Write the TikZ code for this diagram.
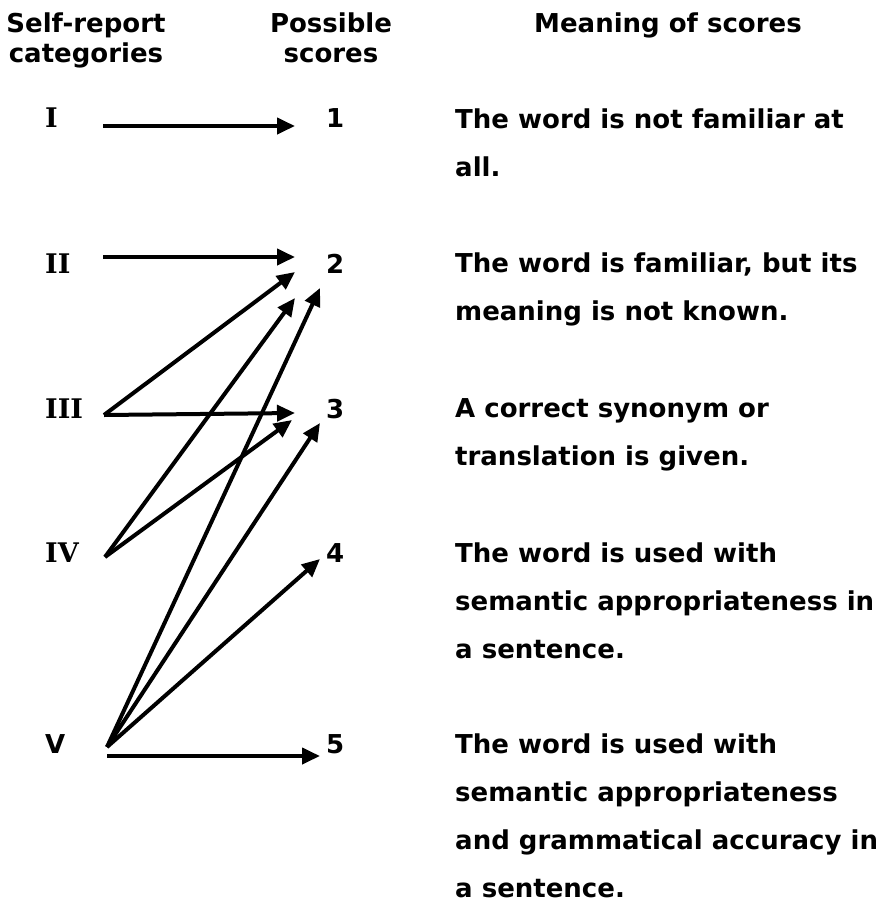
\documentclass[tikz,border=0pt]{standalone}
\usepackage{fontspec}
\setmainfont{DejaVu Sans}
\newfontfamily\romfont{DejaVu Serif}
\usetikzlibrary{arrows.meta}
\definecolor{ScoreInk}{HTML}{000000}

\begin{document}
\begin{tikzpicture}[x=1pt,y=-1pt,
  txt/.style={inner sep=0pt,anchor=base west,text=ScoreInk,font=\bfseries\fontsize{26}{48}\selectfont},
  rom/.style={txt,font=\romfont\bfseries\fontsize{27}{30}\selectfont},
  head/.style={inner sep=0pt,anchor=base,align=center,text=ScoreInk,font=\bfseries\fontsize{26}{30}\selectfont},
  link/.style={line width=4pt,ScoreInk,-{Triangle[length=18pt,width=16pt]}}]
  \useasboundingbox (0,0) rectangle (884,903);
  % column heads (base = last line)
  \node[head] (hCat) at (86,62) {Self-report\\categories};
  \node[head] (hScore) at (331,62) {Possible\\scores};
  \node[head] (hMean) at (668,32) {Meaning of scores};
  % self-report categories
  \node[rom] (cI) at (45,127) {I};
  \node[rom] (cII) at (45,273) {II};
  \node[rom] (cIII) at (45,418) {III};
  \node[rom] (cIV) at (45,562) {IV};
  \node[txt] (cV) at (45,753) {V};
  % scores
  \node[txt] (s1) at (326,127) {1};
  \node[txt] (s2) at (326,273) {2};
  \node[txt] (s3) at (326,418) {3};
  \node[txt] (s4) at (326,562) {4};
  \node[txt] (s5) at (326,753) {5};
  % meanings (base = last line)
  \node[txt,align=left] (m1) at (455,176) {The word is not familiar at\\all.};
  \node[txt,align=left] (m2) at (455,320) {The word is familiar, but its\\meaning is not known.};
  \node[txt,align=left] (m3) at (455,465) {A correct synonym or\\translation is given.};
  \node[txt,align=left] (m4) at (455,658) {The word is used with\\semantic appropriateness in\\a sentence.};
  \node[txt,align=left] (m5) at (455,897) {The word is used with\\semantic appropriateness\\and grammatical accuracy in\\a sentence.};
  % arrow ends
  \coordinate (oI) at (103,126);
  \coordinate (oII) at (103,257);
  \coordinate (oIII) at (104,415);
  \coordinate (oIV) at (105,557);
  \coordinate (oV) at (107,747);
  \coordinate (oVb) at (107,756);
  \coordinate (i1) at (295,126);
  \coordinate (i2a) at (295,257);
  \coordinate (i2b) at (295,272);
  \coordinate (i2c) at (295,298);
  \coordinate (i2d) at (320,288);
  \coordinate (i3a) at (295,413);
  \coordinate (i3b) at (292,420);
  \coordinate (i3c) at (320,423);
  \coordinate (i4) at (320,559);
  \coordinate (i5) at (320,756);
  \draw[link] (oI) -- (i1);
  \draw[link] (oII) -- (i2a);
  \draw[link] (oIII) -- (i2b);
  \draw[link] (oIII) -- (i3a);
  \draw[link] (oIV) -- (i2c);
  \draw[link] (oIV) -- (i3b);
  \draw[link] (oV) -- (i2d);
  \draw[link] (oV) -- (i3c);
  \draw[link] (oV) -- (i4);
  \draw[link] (oVb) -- (i5);
\end{tikzpicture}
\end{document}
